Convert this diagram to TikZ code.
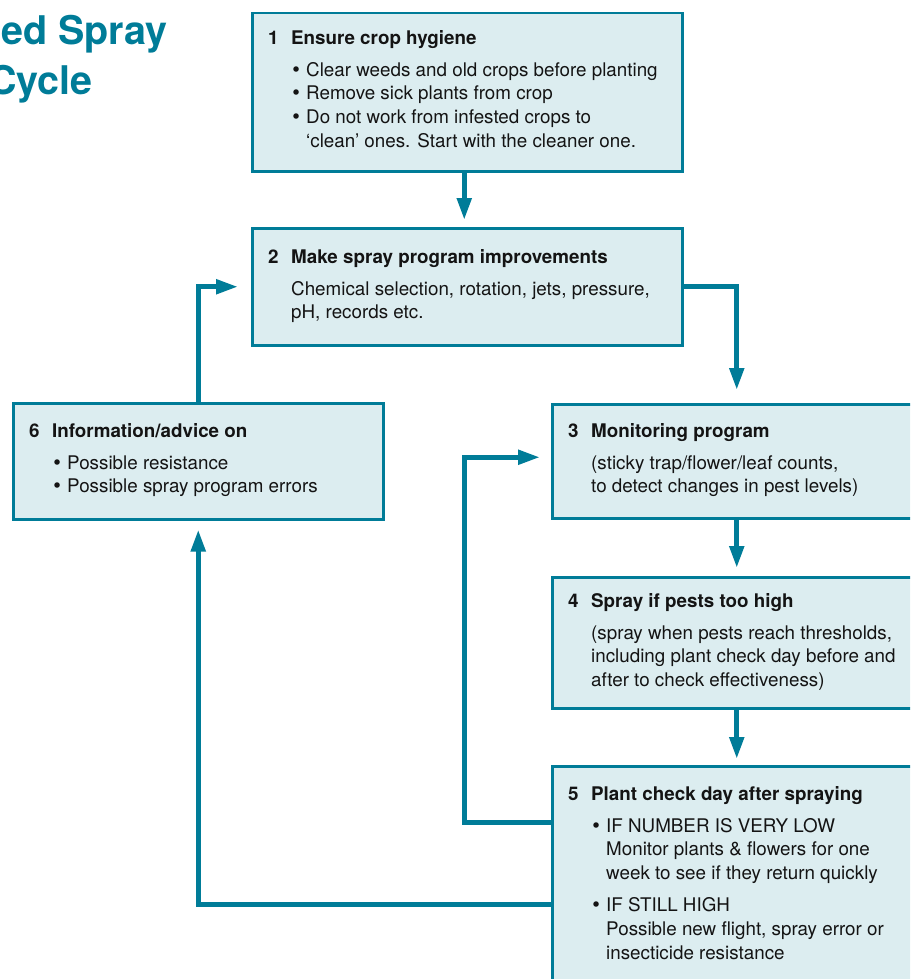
\documentclass[tikz,border=0pt]{standalone}
\usepackage{fontspec}
\setmainfont{TeX Gyre Heros}
\newfontfamily\bulfont{DejaVu Sans}
\usetikzlibrary{arrows.meta,calc}
\definecolor{tealA}{HTML}{007C98}
\definecolor{boxfill}{HTML}{DCEDF0}
\newcommand\myBul{\makebox[15pt][l]{\hspace*{-0.5pt}{\bulfont •}}}
\newcommand\myInd{\hspace*{23pt}}
\begin{document}
\begin{tikzpicture}[x=1pt,y=-1pt,
  box/.style={draw=tealA, fill=boxfill, line width=2.5pt, anchor=north west, inner sep=0pt, rectangle},
  txt/.style={anchor=north west, inner sep=0pt, align=left, font=\fontsize{18.8pt}{23.7pt}\selectfont, text=black!92},
  conn/.style={draw=tealA, line width=5pt, -{Triangle[width=14pt,length=22pt]}},
  ttl/.style={anchor=base east, inner sep=0pt, font=\fontsize{39.5pt}{44pt}\selectfont\bfseries, text=tealA}]
\useasboundingbox (0,0) rectangle (910,979);
\clip (0,0) rectangle (910,979);

% title
\node[ttl] (ttlA) at (168,45) {ed Spray};
\node[ttl] (ttlB) at (93,95) {Cycle};

% boxes
\node[box, minimum width=430pt, minimum height=158pt] (b1) at (251,12) {};
\node[box, minimum width=430pt, minimum height=117pt] (b2) at (251,227) {};
\node[box, minimum width=369pt, minimum height=114pt] (b3) at (551,403) {};
\node[box, minimum width=369pt, minimum height=131pt] (b4) at (551,576) {};
\node[box, minimum width=369pt, minimum height=225pt] (b5) at (551,765) {};
\node[box, minimum width=370pt, minimum height=116pt] (b6) at (12,402) {};

% texts
\node[txt] (t1) at ($(b1.north west)+(17,17)$) {\rule{0pt}{15pt}\makebox[23pt][l]{\textbf{1}}\textbf{Ensure crop hygiene}\\[8.3pt]
\myInd\myBul Clear weeds and old crops before planting\\
\myInd\myBul Remove sick plants from crop\\
\myInd\myBul Do not work from infested crops to\\
\myInd\hspace*{15pt}‘clean’ ones. Start with the cleaner one.};

\node[txt] (t2) at ($(b2.north west)+(17,21)$) {\rule{0pt}{15pt}\makebox[23pt][l]{\textbf{2}}\textbf{Make spray program improvements}\\[8.3pt]
\myInd Chemical selection, rotation, jets, pressure,\\
\myInd pH, records etc.};

\node[txt] (t3) at ($(b3.north west)+(17,19)$) {\rule{0pt}{15pt}\makebox[23pt][l]{\textbf{3}}\textbf{Monitoring program}\\[8.3pt]
\myInd (sticky trap/flower/leaf counts,\\
\myInd to detect changes in pest levels)};

\node[txt] (t4) at ($(b4.north west)+(17,16)$) {\rule{0pt}{15pt}\makebox[23pt][l]{\textbf{4}}\textbf{Spray if pests too high}\\[8.3pt]
\myInd (spray when pests reach thresholds,\\
\myInd including plant check day before and\\
\myInd after to check effectiveness)};

\node[txt] (t5) at ($(b5.north west)+(17,20)$) {\rule{0pt}{15pt}\makebox[23pt][l]{\textbf{5}}\textbf{Plant check day after spraying}\\[8.3pt]
\myInd\myBul IF NUMBER IS VERY LOW\\
\myInd\hspace*{15pt}Monitor plants \& flowers for one\\
\myInd\hspace*{15pt}week to see if they return quickly\\[8.3pt]
\myInd\myBul IF STILL HIGH\\
\myInd\hspace*{15pt}Possible new flight, spray error or\\
\myInd\hspace*{15pt}insecticide resistance};

\node[txt] (t6) at ($(b6.north west)+(17,20)$) {\rule{0pt}{15pt}\makebox[23pt][l]{\textbf{6}}\textbf{Information/advice on}\\[8.3pt]
\myInd\myBul Possible resistance\\
\myInd\myBul Possible spray program errors};

% bend points
\coordinate (k1) at (464,822);
\coordinate (k2) at (195,904);

% connectors
\draw[conn, shorten >=7pt] ([xshift=-3pt]b1.south) -- ([xshift=-3pt]b2.north);
\draw[conn, shorten >=13pt] (b2.east) -| (b3.north);
\draw[conn, shorten >=8pt] (b3.south) -- (b4.north);
\draw[conn, shorten >=6pt] (b4.south) -- (b5.north);
\draw[conn, shorten >=11pt] (b5.west |- k1) -- (k1) |- ([yshift=4pt]b3.west);
\draw[conn, shorten >=9pt] (b5.west |- k2) -| (b6.south);
\draw[conn, shorten >=13pt] (b6.north) |- (b2.west);
\end{tikzpicture}
\end{document}
